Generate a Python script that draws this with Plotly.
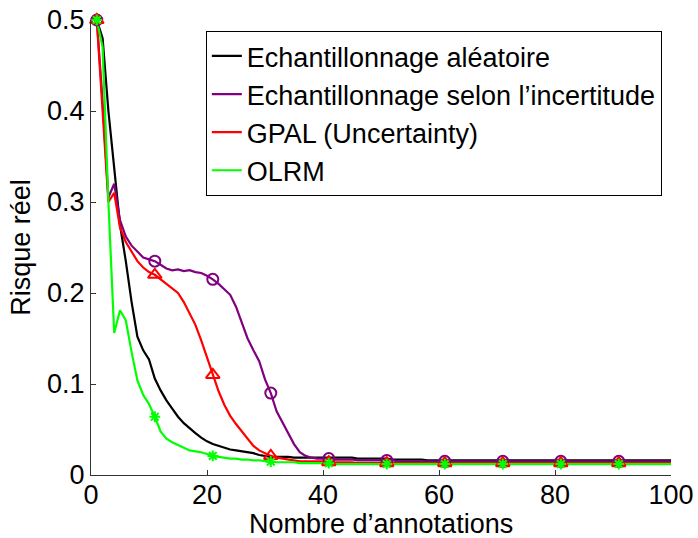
import plotly.graph_objects as go

x = list(range(1, 101))

def tail(vals, n_total, fill):
    return vals + [fill] * (n_total - len(vals))

black_head = [0.5, 0.48, 0.40, 0.335, 0.275, 0.235, 0.19, 0.152, 0.137, 0.127,
              0.106, 0.093, 0.082, 0.073, 0.064, 0.057, 0.051, 0.046, 0.041, 0.037,
              0.034, 0.032, 0.030, 0.028, 0.027, 0.026, 0.025, 0.024, 0.022, 0.021,
              0.020, 0.020, 0.020, 0.020, 0.019, 0.019, 0.019, 0.019, 0.019, 0.019,
              0.019, 0.019, 0.019, 0.019, 0.019, 0.018, 0.018, 0.018, 0.018, 0.018,
              0.018, 0.017, 0.017, 0.017, 0.017, 0.017, 0.017, 0.016, 0.016, 0.016]
aleatoire = tail(black_head, 100, 0.016)

purple_head = [0.5, 0.41, 0.305, 0.32, 0.28, 0.262, 0.252, 0.245, 0.239, 0.237,
               0.235, 0.231, 0.227, 0.225, 0.226, 0.224, 0.225, 0.223, 0.222, 0.219,
               0.215, 0.210, 0.204, 0.198, 0.185, 0.168, 0.150, 0.137, 0.125, 0.105,
               0.090, 0.070, 0.058, 0.045, 0.034, 0.025, 0.021, 0.019, 0.018, 0.018,
               0.018, 0.017, 0.017, 0.017, 0.017, 0.016, 0.016, 0.016, 0.016, 0.016,
               0.016, 0.016, 0.015, 0.015, 0.015]
incertitude = tail(purple_head, 100, 0.015)

red_head = [0.5, 0.40, 0.30, 0.31, 0.272, 0.256, 0.245, 0.235, 0.228, 0.223,
            0.220, 0.215, 0.210, 0.205, 0.200, 0.190, 0.178, 0.165, 0.148, 0.130,
            0.110, 0.092, 0.077, 0.065, 0.056, 0.048, 0.040, 0.032, 0.027, 0.024,
            0.021, 0.019, 0.018, 0.017, 0.016, 0.015, 0.015, 0.015, 0.015, 0.015,
            0.014, 0.014, 0.014, 0.014, 0.014]
gpal = tail(red_head, 100, 0.013)

green_head = [0.5, 0.47, 0.30, 0.156, 0.181, 0.170, 0.135, 0.104, 0.088, 0.078,
              0.064, 0.048, 0.040, 0.036, 0.033, 0.030, 0.027, 0.026, 0.025, 0.023,
              0.021, 0.020, 0.019, 0.018, 0.018, 0.017, 0.017, 0.016, 0.016, 0.015,
              0.0146, 0.014, 0.014, 0.014, 0.014, 0.013, 0.013, 0.013, 0.013, 0.013,
              0.013]
olrm = tail(green_head, 100, 0.012)

names = ["Echantillonnage aléatoire", "Echantillonnage selon l’incertitude",
         "GPAL (Uncertainty)", "OLRM"]
series = [aleatoire, incertitude, gpal, olrm]
colors = ["#000000", "#800080", "#FF0000", "#00FF00"]
symbols = [None, "circle-open", "triangle-up-open", "asterisk-open"]
msizes = [0, 11, 12, 9]

xticks = [0, 20, 40, 60, 80, 100]
yticks = [0, 0.1, 0.2, 0.3, 0.4, 0.5]
yticklabels = ["0", "0.1", "0.2", "0.3", "0.4", "0.5"]
xlabel = "Nombre d’annotations"
ylabel = "Risque réel"

FONT = "Liberation Sans, Arial, sans-serif"
FS = 27

fig = go.Figure()
for i, (nm, ys, c) in enumerate(zip(names, series, colors)):
    fig.add_trace(go.Scatter(x=x, y=ys, mode="lines", name=nm,
                             line=dict(color=c, width=2.2), cliponaxis=False))
for i, (ys, c, s, ms) in enumerate(zip(series, colors, symbols, msizes)):
    if s is None:
        continue
    fig.add_trace(go.Scatter(x=x[::10], y=ys[::10], mode="markers",
                             marker=dict(symbol=s, size=ms, color=c,
                                         line=dict(color=c, width=2)),
                             showlegend=False, cliponaxis=False))

fig.add_annotation(text=xlabel, xref="paper", yref="paper", x=0.5,
                   y=(475 - 524) / 455, xanchor="center", yanchor="middle",
                   showarrow=False, font=dict(family=FONT, size=FS, color="black"))

fig.update_layout(
    width=698, height=538,
    margin=dict(l=91, r=27, t=20, b=63, autoexpand=False),
    paper_bgcolor="white", plot_bgcolor="white",
    font=dict(family=FONT, size=FS, color="black"),
    showlegend=True,
    legend=dict(x=0.198, y=0.976, xanchor="left", yanchor="top",
                bgcolor="white", bordercolor="black", borderwidth=1,
                font=dict(family=FONT, size=FS, color="black"),
                tracegroupgap=0, itemclick=False),
    xaxis=dict(range=[0, 100], tickvals=xticks, ticks="inside", ticklen=5,
               tickcolor="#333", showline=True, linecolor="#333", linewidth=1,
               showgrid=False, zeroline=False, mirror=False, automargin=False,
               tickfont=dict(size=FS), ticklabelstandoff=-4),
    yaxis=dict(range=[0, 0.5], tickvals=yticks, ticktext=yticklabels,
               ticks="inside", ticklen=5, tickcolor="#333",
               showline=True, linecolor="#333", linewidth=1,
               showgrid=False, zeroline=False, mirror=False, automargin=False,
               tickfont=dict(size=FS),
               title=dict(text=ylabel, standoff=8, font=dict(size=FS))),
)

fig.write_html("out.html")
